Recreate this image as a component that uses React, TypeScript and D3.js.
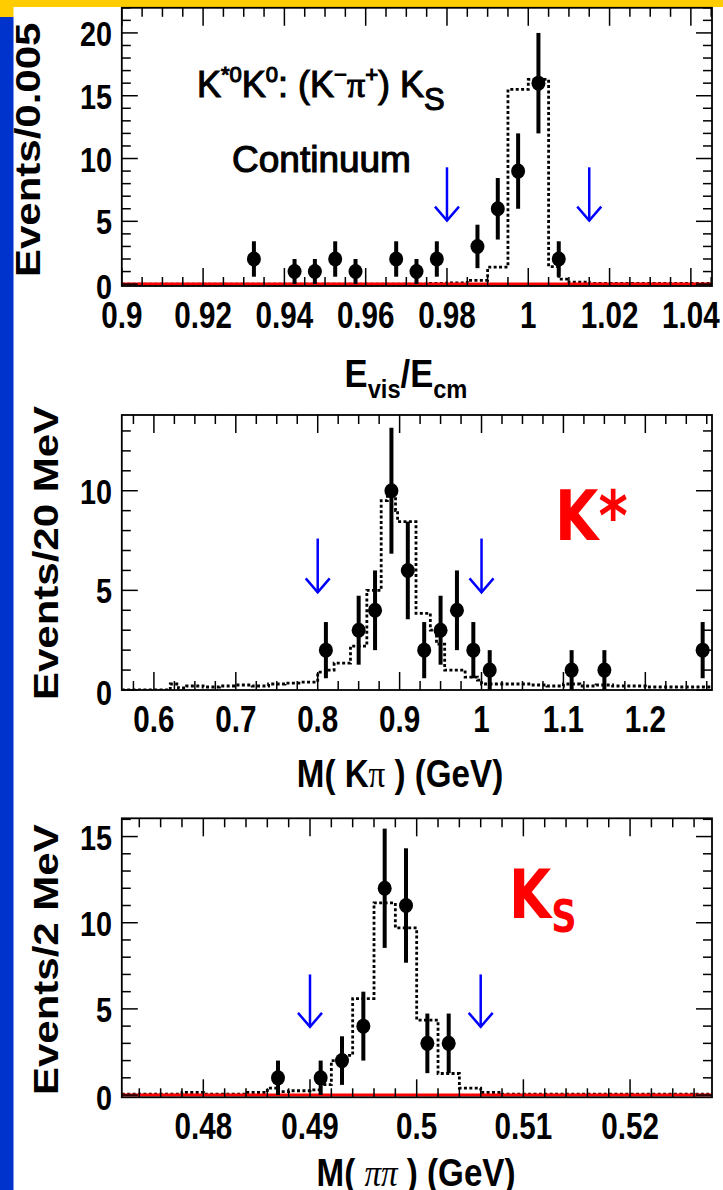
import React from 'react';
import * as d3 from 'd3';

// ---------------- data ----------------
// Panel 1 : E_vis / E_cm
const evisBinCenters = [0.9325, 0.9425, 0.9475, 0.9525, 0.9575, 0.9675, 0.9725, 0.9775, 0.9875, 0.9925, 0.9975, 1.0025, 1.0075];
const evisCounts = [2, 1, 1, 2, 1, 2, 1, 2, 3, 6, 9, 16, 2];
const evisErrors = [1.41, 1, 1, 1.41, 1, 1.41, 1, 1.41, 1.73, 2.45, 3, 4, 1.41];
const evisMcEdges = [0.9, 0.975, 0.98, 0.985, 0.99, 0.995, 1.0, 1.005, 1.0075, 1.01, 1.015, 1.0452];
const evisMcValues = [0, 0.05, 0.1, 0.3, 1.35, 15.5, 16.3, 1.4, 0.4, 0.15, 0.05];
const evisCuts = [0.98, 1.015];
const evisArrowRange = [9.3, 5.06];
const evisXTicks = [0.9, 0.92, 0.94, 0.96, 0.98, 1, 1.02, 1.04];
const evisYTicks = [0, 5, 10, 15, 20];

// Panel 2 : M(K pi)
const kpiBinCenters = [0.81, 0.85, 0.87, 0.89, 0.91, 0.93, 0.95, 0.97, 0.99, 1.01, 1.11, 1.15, 1.27];
const kpiCounts = [2, 3, 4, 10, 6, 2, 3, 4, 2, 1, 1, 1, 2];
const kpiErrors = [1.41, 1.73, 2, 3.16, 2.45, 1.41, 1.73, 2, 1.41, 1, 1, 1, 1.41];
const kpiMcEdges = [0.5608, 0.62, 0.63, 0.64, 0.66, 0.68, 0.7, 0.72, 0.74, 0.76, 0.78, 0.8, 0.81, 0.82, 0.84, 0.86, 0.8775, 0.885, 0.895, 0.8975, 0.92, 0.9375, 0.945, 0.955, 0.98, 0.995, 1.0, 1.01, 1.06, 1.08, 1.1, 1.12, 1.14, 1.16, 1.2, 1.2814];
const kpiMcValues = [0, 0.3, 0.1, 0.2, 0.15, 0.2, 0.25, 0.2, 0.3, 0.35, 0.4, 0.9, 1.0, 1.35, 2.2, 5.0, 9.5, 10.0, 9.0, 8.45, 3.85, 3.0, 2.3, 1.0, 0.65, 0.5, 0.3, 0.3, 0.25, 0.2, 0.3, 0.2, 0.25, 0.2, 0.15];
const kpiCuts = [0.8, 1.0];
const kpiArrowRange = [7.6, 4.9];
const kpiXTicks = [0.6, 0.7, 0.8, 0.9, 1, 1.1, 1.2];
const kpiYTicks = [0, 5, 10];

// Panel 3 : M(pi pi)
const pipiBinCenters = [0.487, 0.491, 0.493, 0.495, 0.497, 0.499, 0.501, 0.503];
const pipiCounts = [1, 1, 2, 4, 12, 11, 3, 3];
const pipiErrors = [1, 1, 1.41, 2, 3.46, 3.32, 1.73, 1.73];
const pipiMcEdges = [0.47236, 0.478, 0.48, 0.484, 0.486, 0.487, 0.488, 0.49, 0.491, 0.492, 0.493, 0.494, 0.496, 0.498, 0.5, 0.502, 0.504, 0.506, 0.508, 0.52768];
const pipiMcValues = [0.05, 0.15, 0.05, 0.15, 0.4, 0.2, 0.25, 0.3, 0.6, 2.0, 2.3, 5.6, 11.15, 9.7, 4.35, 1.25, 0.4, 0.15, 0.05];
const pipiCuts = [0.49, 0.506];
const pipiArrowRange = [7.0, 3.96];
const pipiXTicks = [0.48, 0.49, 0.5, 0.51, 0.52];
const pipiYTicks = [0, 5, 10, 15];

// ---------------- layout ----------------
type Box = { left: number; right: number; top: number; bottom: number };
type PanelSpec = {
  id: string;
  box: Box;
  xDomain: [number, number];
  yDomain: [number, number];
  xMajor: number;
  xMinor: number;
  centers: number[];
  counts: number[];
  errors: number[];
  mcEdges: number[];
  mcValues: number[];
  cuts: number[];
  arrowRange: number[];
  xTicks: number[];
  yTicks: number[];
  redBase: boolean;
};

const panels: PanelSpec[] = [
  {
    id: 'p1', box: { left: 121.8, right: 712, top: 7.8, bottom: 286 },
    xDomain: [0.9, 1.0452], yDomain: [-0.15, 22], xMajor: 0.02, xMinor: 0.005,
    centers: evisBinCenters, counts: evisCounts, errors: evisErrors,
    mcEdges: evisMcEdges, mcValues: evisMcValues, cuts: evisCuts, arrowRange: evisArrowRange,
    xTicks: evisXTicks, yTicks: evisYTicks, redBase: true,
  },
  {
    id: 'p2', box: { left: 121.8, right: 712, top: 415, bottom: 690 },
    xDomain: [0.5608, 1.2814], yDomain: [0, 13.8], xMajor: 0.1, xMinor: 0.025,
    centers: kpiBinCenters, counts: kpiCounts, errors: kpiErrors,
    mcEdges: kpiMcEdges, mcValues: kpiMcValues, cuts: kpiCuts, arrowRange: kpiArrowRange,
    xTicks: kpiXTicks, yTicks: kpiYTicks, redBase: false,
  },
  {
    id: 'p3', box: { left: 121.8, right: 712, top: 818.3, bottom: 1097.3 },
    xDomain: [0.47236, 0.52768], yDomain: [-0.13, 16.06], xMajor: 0.01, xMinor: 0.002,
    centers: pipiBinCenters, counts: pipiCounts, errors: pipiErrors,
    mcEdges: pipiMcEdges, mcValues: pipiMcValues, cuts: pipiCuts, arrowRange: pipiArrowRange,
    xTicks: pipiXTicks, yTicks: pipiYTicks, redBase: true,
  },
];

const SANS = "'Liberation Sans', Arial, Helvetica, sans-serif";
const SERIF = "'Liberation Serif', 'Times New Roman', serif";
const BLUE = '#0000ff';
const RED = '#ff0000';

function stepTicks(d: [number, number], step: number): number[] {
  const out: number[] = [];
  const lo = Math.min(d[0], d[1]);
  const hi = Math.max(d[0], d[1]);
  for (let i = Math.ceil(lo / step - 1e-6); i <= Math.floor(hi / step + 1e-6); i++) out.push(+(i * step).toFixed(6));
  return out;
}
const isMult = (v: number, s: number) => Math.abs(v / s - Math.round(v / s)) < 1e-4;
const fmt = (v: number) => `${+v.toFixed(4)}`;

function Panel({ p }: { p: PanelSpec }) {
  const { box } = p;
  const x = d3.scaleLinear().domain(p.xDomain).range([box.left, box.right]);
  const y = d3.scaleLinear().domain(p.yDomain).range([box.bottom, box.top]);

  const xMinorTicks = stepTicks(p.xDomain, p.xMinor);
  const yMinorTicks = stepTicks([Math.max(0, p.yDomain[0]), p.yDomain[1]], 1);

  const mcPts: [number, number][] = p.mcEdges.map((e, i) => [e, p.mcValues[Math.min(i, p.mcValues.length - 1)]]);
  const mcPath = d3.line<[number, number]>().x(d => x(d[0])).y(d => y(d[1])).curve(d3.curveStepAfter)(mcPts) || '';

  const xMajLen = 18, xMinLen = 9, yMajLen = 16, yMinLen = 9;
  const labelBase = box.bottom + 42;

  return (
    <g>
      <defs>
        <clipPath id={`clip-${p.id}`}>
          <rect x={box.left} y={box.top} width={box.right - box.left} height={box.bottom - box.top} />
        </clipPath>
      </defs>
      {/* MC histogram */}
      <path d={mcPath} fill="none" stroke="#000" strokeWidth={2.8} strokeDasharray="3 2.4" clipPath={`url(#clip-${p.id})`} />
      {p.redBase && (
        <line x1={box.left} x2={box.right} y1={y(0)} y2={y(0)} stroke={RED} strokeWidth={3} />
      )}
      {/* ticks */}
      {xMinorTicks.map((v, i) => {
        const L = isMult(v, p.xMajor) ? xMajLen : xMinLen;
        const xx = x(v);
        return (
          <g key={`xt${i}`} stroke="#000" strokeWidth={1.5}>
            <line x1={xx} x2={xx} y1={box.bottom} y2={box.bottom - L} />
            <line x1={xx} x2={xx} y1={box.top} y2={box.top + L} />
          </g>
        );
      })}
      {yMinorTicks.map((v, i) => {
        const L = isMult(v, 5) ? yMajLen : yMinLen;
        const yy = y(v);
        return (
          <g key={`yt${i}`} stroke="#000" strokeWidth={1.5}>
            <line x1={box.left} x2={box.left + L} y1={yy} y2={yy} />
            <line x1={box.right} x2={box.right - L} y1={yy} y2={yy} />
          </g>
        );
      })}
      {/* frame */}
      <rect x={box.left} y={box.top} width={box.right - box.left} height={box.bottom - box.top} fill="none" stroke="#000" strokeWidth={1.8} />
      {/* cut arrows */}
      {p.cuts.map((c, i) => {
        const xx = x(c);
        const y1 = y(p.arrowRange[0]);
        const y2 = y(p.arrowRange[1]);
        return (
          <g key={`ar${i}`} stroke={BLUE} strokeWidth={2.5} fill="none">
            <line x1={xx} x2={xx} y1={y1} y2={y2} />
            <polyline points={`${xx - 12},${y2 - 14} ${xx},${y2} ${xx + 12},${y2 - 14}`} />
          </g>
        );
      })}
      {/* data points */}
      {p.centers.map((c, i) => {
        const xx = x(c);
        return (
          <g key={`pt${i}`}>
            <line x1={xx} x2={xx} y1={y(p.counts[i] + p.errors[i])} y2={y(Math.max(0, p.counts[i] - p.errors[i]))} stroke="#000" strokeWidth={4} />
            <ellipse cx={xx} cy={y(p.counts[i])} rx={7} ry={7.5} fill="#000" />
          </g>
        );
      })}
      {/* tick labels */}
      {p.xTicks.map((v, i) => (
        <text key={`xl${i}`} transform={`translate(${x(v)},${labelBase}) scale(0.8,1)`} textAnchor="middle"
          fontFamily={SANS} fontWeight="bold" fontSize={37} fill="#000">{fmt(v)}</text>
      ))}
      {p.yTicks.map((v, i) => (
        <text key={`yl${i}`} transform={`translate(112,${y(v) + 13 + (v === 0 ? 2 : 0)}) scale(0.8,1)`} textAnchor="end"
          fontFamily={SANS} fontWeight="bold" fontSize={36} fill="#000">{fmt(v)}</text>
      ))}
    </g>
  );
}

export default function App() {
  return (
    <div style={{ position: 'absolute', left: 0, top: 0, width: 723, height: 1190, background: '#fff' }}>
      <svg width={723} height={1190} viewBox="0 0 723 1190" style={{ display: 'block' }}>
        <rect x={0} y={0} width={723} height={1190} fill="#fff" />
        {/* border decoration */}
        <rect x={0} y={0} width={723} height={7} fill="#ffcc00" />
        <rect x={0} y={0} width={13.5} height={17} fill="#ffcc00" />
        <rect x={0} y={17} width={13.5} height={1173} fill="#0033cc" />

        {panels.map(p => <Panel key={p.id} p={p} />)}

        {/* panel 1 annotations */}
        <text x={197} y={97} fontFamily={SANS} fontSize={36} fill="#000" stroke="#000" strokeWidth={1.1}>
          K<tspan dy={-15} fontSize={22}>*0</tspan><tspan dy={15}>K</tspan><tspan dy={-15} fontSize={22}>0</tspan><tspan dy={15}>: (K</tspan><tspan dy={-15} fontSize={22}>−</tspan><tspan dy={15} fontFamily={SERIF}>π</tspan><tspan dy={-15} fontSize={22}>+</tspan><tspan dy={15}>) K</tspan><tspan dy={13} fontSize={31}>S</tspan>
        </text>
        <text x={232} y={172} fontFamily={SANS} fontSize={37} fill="#000" stroke="#000" strokeWidth={1.1}>Continuum</text>

        {/* y axis titles */}
        <text transform="translate(40,277) scale(0.82,1) rotate(-90)" fontFamily={SANS} fontWeight="bold" fontSize={42} fill="#000">Events/0.005</text>
        <text transform="translate(58,700) scale(0.82,1) rotate(-90)" fontFamily={SANS} fontWeight="bold" fontSize={42} fill="#000">Events/20 MeV</text>
        <text transform="translate(58,1095) scale(0.82,1) rotate(-90)" fontFamily={SANS} fontWeight="bold" fontSize={42} fill="#000">Events/2 MeV</text>

        {/* x axis titles */}
        <text transform="translate(406,387) scale(0.91,1)" textAnchor="middle" fontFamily={SANS} fontWeight="bold" fontSize={38} fill="#000">
          E<tspan dy={11} fontSize={26}>vis</tspan><tspan dy={-11}>/E</tspan><tspan dy={11} fontSize={26}>cm</tspan>
        </text>
        <text transform="translate(400,787) scale(0.85,1)" textAnchor="middle" fontFamily={SANS} fontWeight="bold" fontSize={39} fill="#000">
          M( K<tspan fontFamily={SERIF} fontWeight="normal">π</tspan> ) (GeV)
        </text>
        <text transform="translate(416,1186) scale(0.85,1)" textAnchor="middle" fontFamily={SANS} fontWeight="bold" fontSize={39} fill="#000">
          M( <tspan fontFamily={SERIF} fontWeight="normal" fontStyle="italic">ππ</tspan> ) (GeV)
        </text>

        {/* red labels */}
        <text transform="translate(555,540) scale(0.8,1)" fontFamily="'DejaVu Sans', sans-serif" fontWeight="bold" fontSize={70} fill={RED}>K*</text>
        <text transform="translate(509,918) scale(0.8,1)" fontFamily="'DejaVu Sans', sans-serif" fontWeight="bold" fontSize={68} fill={RED}>
          K<tspan dy={14} fontSize={44}>S</tspan>
        </text>
      </svg>
    </div>
  );
}
